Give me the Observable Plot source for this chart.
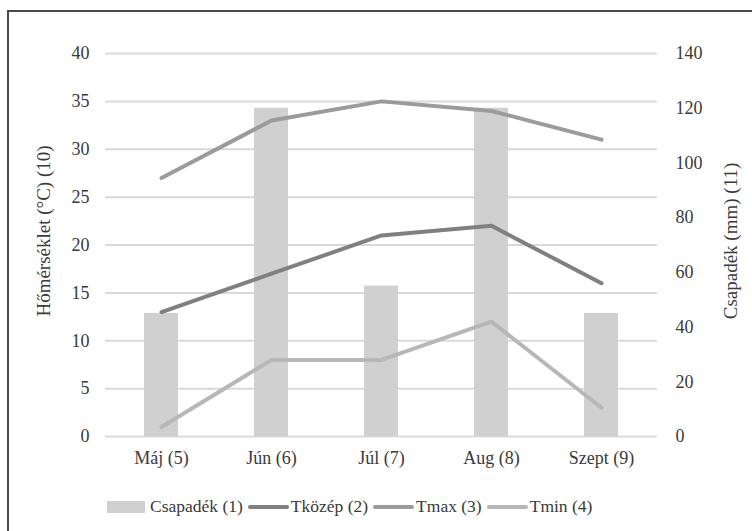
<!DOCTYPE html>
<html>
<head>
<meta charset="utf-8">
<script src="https://cdn.jsdelivr.net/npm/d3@7"></script>
<script src="https://cdn.jsdelivr.net/npm/@observablehq/plot@0.6"></script>
<style>
  html, body { margin: 0; padding: 0; background: #fff; }
  body { width: 752px; height: 531px; position: relative; overflow: hidden; font-family: "Liberation Serif", serif; color: #3a3a3a; }
  #frame { position: absolute; left: 7px; top: 10px; width: 800px; height: 600px; border: 2px solid #4a4a4a; box-sizing: border-box; }
  #chart { position: absolute; left: 0; top: 0; }
  .ytitle { position: absolute; font-size: 19px; white-space: nowrap; transform: translate(-50%, -50%) rotate(-90deg); }
  #legend { position: absolute; left: 107px; top: 496px; display: flex; align-items: center; font-size: 17.5px; white-space: nowrap; }
  .sw-rect { width: 38px; height: 12px; background: #d0d0d0; margin-right: 5px; }
  .sw-line { width: 41px; height: 4px; border-radius: 2px; margin-right: 2px; }
  .item { display: flex; align-items: center; margin-right: 5px; }
</style>
</head>
<body>
<div id="frame"></div>
<div id="chart"></div>
<div class="ytitle" style="left:44px; top:231px;">Hőmérséklet (°C) (10)</div>
<div class="ytitle" style="left:731px; top:241px;">Csapadék (mm) (11)</div>
<div id="legend"></div>
<script>
const months = ["Máj (5)", "Jún (6)", "Júl (7)", "Aug (8)", "Szept (9)"];
const csapadek = [45, 120, 55, 120, 45];
const tkozep = [13, 17, 21, 22, 16];
const tmax = [27, 33, 35, 34, 31];
const tmin = [1, 8, 8, 12, 3];
const tempTicks = [0, 5, 10, 15, 20, 25, 30, 35, 40];
const precipTicks = [0, 20, 40, 60, 80, 100, 120, 140];

const seriesNames = ["Csapadék (1)", "Tközép (2)", "Tmax (3)", "Tmin (4)"];
const colors = { bar: "#d0d0d0", tkozep: "#808080", tmax: "#9b9b9b", tmin: "#b7b7b7" };

const k = 40 / 140; // precipitation -> temperature scale
const rows = months.map((m, i) => ({ m, p: csapadek[i], tk: tkozep[i], tx: tmax[i], tn: tmin[i] }));

const chart = Plot.plot({
  width: 752,
  height: 480,
  marginTop: 53,
  marginBottom: 44,
  marginLeft: 105,
  marginRight: 95,
  style: { fontFamily: "Liberation Serif, serif", fontSize: "18px", color: "#3a3a3a", background: "transparent" },
  x: { domain: months, paddingInner: 0.69, paddingOuter: 0.345, axis: null },
  y: { domain: [0, 40], axis: null },
  marks: [
    Plot.ruleY(tempTicks, { stroke: "#d9d9d9", strokeWidth: 2 }),
    Plot.barY(rows, { x: "m", y1: 0, y2: d => d.p * k, fill: colors.bar }),
    Plot.line(rows, { x: "m", y: "tk", stroke: colors.tkozep, strokeWidth: 4, strokeLinecap: "round", strokeLinejoin: "round" }),
    Plot.line(rows, { x: "m", y: "tx", stroke: colors.tmax, strokeWidth: 4, strokeLinecap: "round", strokeLinejoin: "round" }),
    Plot.line(rows, { x: "m", y: "tn", stroke: colors.tmin, strokeWidth: 4, strokeLinecap: "round", strokeLinejoin: "round" }),
    Plot.axisX({ tickSize: 0, tickPadding: 15, label: null }),
    Plot.axisY({ anchor: "left", ticks: tempTicks, tickSize: 0, tickPadding: 16, label: null }),
    Plot.axisY({ anchor: "right", ticks: precipTicks.map(v => v * k), tickFormat: d => Math.round(d / k), tickSize: 0, tickPadding: 18, textAnchor: "start", label: null })
  ]
});
document.getElementById("chart").appendChild(chart);

const legend = document.getElementById("legend");
const swatches = [
  { cls: "sw-rect", color: colors.bar },
  { cls: "sw-line", color: colors.tkozep },
  { cls: "sw-line", color: colors.tmax },
  { cls: "sw-line", color: colors.tmin }
];
seriesNames.forEach((name, i) => {
  const item = document.createElement("div");
  item.className = "item";
  const sw = document.createElement("div");
  sw.className = swatches[i].cls;
  sw.style.background = swatches[i].color;
  const t = document.createElement("span");
  t.textContent = name;
  item.appendChild(sw);
  item.appendChild(t);
  legend.appendChild(item);
});
</script>
</body>
</html>
